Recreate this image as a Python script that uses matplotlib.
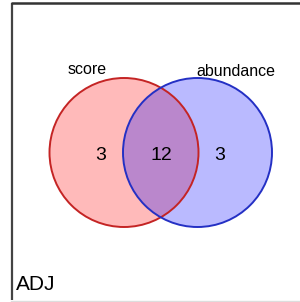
import matplotlib.pyplot as plt
from matplotlib.patches import Circle

# Venn counts and set names
set_names = ["score", "abundance"]
only_counts = [3, 3]
shared_count = 12
panel_label = "ADJ"

fill_colors = ["#ff0000", "#0000ff"]
edge_colors = ["#c42424", "#2430c4"]

plt.rcParams['font.family'] = ['Liberation Sans', 'DejaVu Sans']

fig = plt.figure(figsize=(3.0, 3.02), dpi=100)
ax = fig.add_axes([0, 0, 1, 1])
ax.set_xlim(0, 300)
ax.set_ylim(302, 0)
ax.axis('off')

# frame lines (left and top dark, bottom light)
ax.plot([11.5, 11.5], [3, 300], color='#444444', lw=1.6, solid_capstyle='butt')
ax.plot([11, 300], [3.2, 3.2], color='#333333', lw=1.8, solid_capstyle='butt')
ax.plot([11, 300], [300.8, 300.8], color='#dddddd', lw=1.0)

centers = [(124, 152.5), (197.5, 152.5)]
r = 74.5
for (cx, cy), fc, ec in zip(centers, fill_colors, edge_colors):
    ax.add_patch(Circle((cx, cy), r, facecolor=fc, alpha=0.27, edgecolor='none'))
for (cx, cy), ec in zip(centers, edge_colors):
    ax.add_patch(Circle((cx, cy), r, facecolor='none', edgecolor=ec, lw=1.4))

# set labels
ax.text(87, 70, set_names[0], fontsize=11.5, ha='center', va='center')
ax.text(236, 71, set_names[1], fontsize=11.5, ha='center', va='center')

# region counts
ax.text(101, 155, str(only_counts[0]), fontsize=14, ha='center', va='center')
ax.text(161.5, 155, str(shared_count), fontsize=14, ha='center', va='center')
ax.text(220, 155, str(only_counts[1]), fontsize=14, ha='center', va='center')

ax.text(16, 290, panel_label, fontsize=15, ha='left', va='baseline')

fig.savefig('out.png', dpi=100)
